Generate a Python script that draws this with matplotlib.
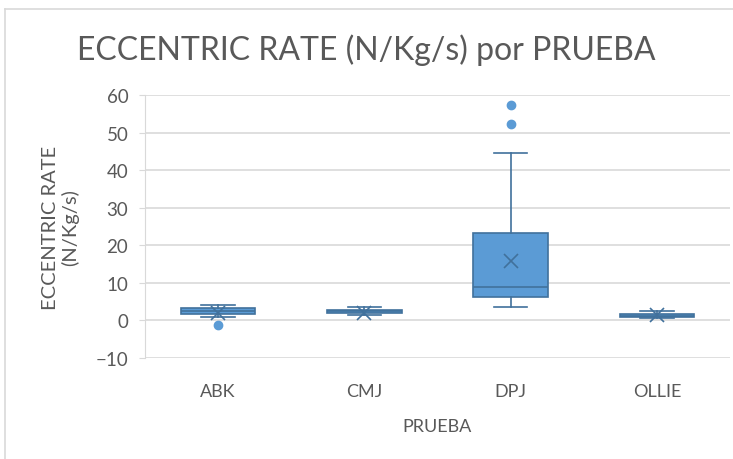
import numpy as np
import matplotlib.pyplot as plt
from matplotlib.lines import Line2D

# Box plot stats
categories = ['ABK', 'CMJ', 'DPJ', 'OLLIE']
q1 = [1.6, 2.0, 6.2, 0.9]
medians = [2.5, 2.4, 8.8, 1.2]
q3 = [3.2, 2.7, 23.4, 1.6]
whislo = [1.0, 1.5, 3.7, 0.6]
whishi = [4.2, 3.5, 44.5, 2.4]
means = [2.0, 2.1, 15.8, 1.4]
fliers = [[-1.2], [], [52.4, 57.3], []]

stats = []
for i, name in enumerate(categories):
    stats.append(dict(label=name, q1=q1[i], med=medians[i], q3=q3[i],
                      whislo=whislo[i], whishi=whishi[i], mean=means[i],
                      fliers=fliers[i]))

plt.rcParams['font.family'] = ['Lato', 'DejaVu Sans']
text_col = '#595959'
fill = '#5B9BD5'
edge = '#41719C'

fig = plt.figure(figsize=(7.33, 4.6), dpi=100)
ax = fig.add_axes([145 / 733, 1 - 359 / 460, (730 - 145) / 733, (359 - 96) / 460])

ax.bxp(stats, positions=range(len(categories)), widths=0.51, patch_artist=True,
       showmeans=True, showfliers=True,
       boxprops=dict(facecolor=fill, edgecolor=edge, linewidth=1.2),
       medianprops=dict(color=edge, linewidth=1.2),
       whiskerprops=dict(color=edge, linewidth=1.2),
       capprops=dict(color=edge, linewidth=1.2),
       capwidths=0.23,
       meanprops=dict(marker='x', markeredgecolor=edge, markersize=10, markeredgewidth=1.2),
       flierprops=dict(marker='o', markerfacecolor=fill, markeredgecolor=fill, markersize=6))

ax.set_xlim(-0.5, 3.5)
ax.set_ylim(-10, 60)
ax.set_yticks(np.arange(-10, 61, 10))
ax.yaxis.grid(True, color='#D9D9D9', linewidth=1.2)
ax.set_axisbelow(True)
for s in ['top', 'right', 'bottom']:
    ax.spines[s].set_visible(False)
ax.spines['left'].set_color('#D9D9D9')
ax.tick_params(axis='y', length=4, color='#D9D9D9', labelsize=13.5, labelcolor=text_col, pad=8)
ax.tick_params(axis='x', length=0, labelsize=13, labelcolor=text_col, pad=18)
ax.set_xticks(range(len(categories)))
ax.set_xticklabels(categories)

ax.set_xlabel('PRUEBA', fontsize=13, color=text_col, labelpad=14)
ax.set_ylabel('ECCENTRIC RATE\n(N/Kg/s)', fontsize=14.5, color=text_col, labelpad=12,
              linespacing=1.15)
fig.text(0.5, 1 - 50 / 460, 'ECCENTRIC RATE (N/Kg/s) por PRUEBA', ha='center', va='center',
         fontsize=23, color=text_col)

# chart border (partially visible)
fig.add_artist(Line2D([5 / 733, 5 / 733], [0, 1 - 10 / 460], transform=fig.transFigure,
                      color='#D9D9D9', linewidth=1.2))
fig.add_artist(Line2D([5 / 733, 1], [1 - 10 / 460, 1 - 10 / 460], transform=fig.transFigure,
                      color='#D9D9D9', linewidth=1.2))

fig.savefig('out.png', dpi=100)
